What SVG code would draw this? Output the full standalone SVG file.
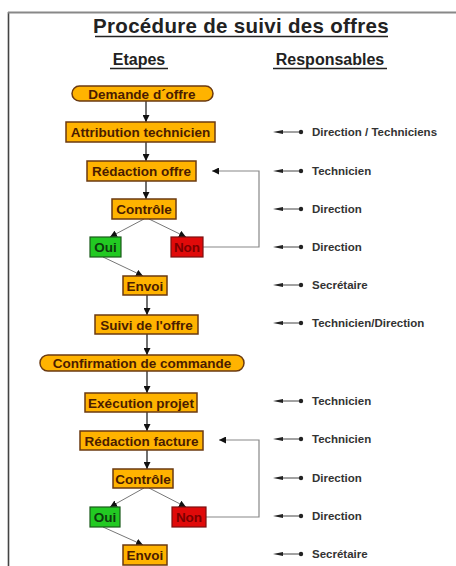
<svg xmlns="http://www.w3.org/2000/svg" width="456" height="566" viewBox="0 0 456 566">
<defs>
<marker id="ah" viewBox="0 0 10 10" refX="10" refY="5" markerWidth="7" markerHeight="7" markerUnits="userSpaceOnUse" orient="auto">
<path d="M0,0 L10,5 L0,10 Z" fill="#111"/>
</marker>
<g id="resp-mark">
<path d="M0,0 L10,-2 L10,2 Z" fill="#222"/>
<line x1="10" y1="0" x2="27" y2="0" stroke="#444" stroke-width="1"/>
<circle cx="28" cy="0" r="2.2" fill="#222"/>
</g>
</defs>
<style>
.box{fill:#ffb300;stroke:#6b3a10;stroke-width:1.5}
.ok{fill:#22c922;stroke:#1a5a1a;stroke-width:1.2}
.no{fill:#e00a0a;stroke:#7a1010;stroke-width:1.2}
.t{font-family:"Liberation Sans",Arial,sans-serif;font-weight:bold;font-size:13.5px;fill:#4a1c00;text-anchor:middle}
.tok{fill:#0d3a0d}
.tno{fill:#7a0000}
.h{font-family:"Liberation Sans",Arial,sans-serif;font-weight:bold;fill:#222;text-anchor:middle}
.r{font-family:"Liberation Sans",Arial,sans-serif;font-weight:bold;font-size:11.5px;fill:#333}
.v{stroke:#111;stroke-width:1.2;fill:none;marker-end:url(#ah)}
.d{stroke:#777;stroke-width:1;fill:none;marker-end:url(#ah)}
.loop{stroke:#888;stroke-width:1.2;fill:none;marker-end:url(#ah)}
</style>
<rect x="0" y="0" width="456" height="566" fill="#fff"/>
<line x1="8.5" y1="12" x2="8.5" y2="566" stroke="#444" stroke-width="1.6"/>
<line x1="8" y1="12.5" x2="456" y2="12.5" stroke="#888" stroke-width="2"/>

<g id="title">
<text class="h" x="241" y="33" font-size="20.5" letter-spacing="0.3">Procédure de suivi des offres</text>
<line x1="95" y1="36.5" x2="388" y2="36.5" stroke="#222" stroke-width="1.5"/>
</g>
<g id="head-etapes">
<text class="h" x="139" y="65" font-size="16">Etapes</text>
<line x1="110" y1="68.5" x2="168" y2="68.5" stroke="#222" stroke-width="1.3"/>
</g>
<g id="head-resp">
<text class="h" x="330" y="65" font-size="16">Responsables</text>
<line x1="273" y1="68.5" x2="387" y2="68.5" stroke="#222" stroke-width="1.3"/>
</g>

<g id="connectors">
<line class="v" x1="146" y1="101" x2="146" y2="122"/>
<line class="v" x1="146" y1="142" x2="146" y2="161"/>
<line class="v" x1="146" y1="181" x2="146" y2="199"/>
<line class="d" x1="144" y1="219" x2="110" y2="237"/>
<line class="d" x1="149" y1="219" x2="186" y2="237"/>
<line class="d" x1="103" y1="257" x2="143" y2="276"/>
<line class="v" x1="147" y1="295" x2="147" y2="315"/>
<line class="v" x1="147" y1="334" x2="147" y2="355"/>
<line class="v" x1="147" y1="371" x2="147" y2="393"/>
<line class="v" x1="147" y1="412" x2="147" y2="431"/>
<line class="v" x1="147" y1="450" x2="147" y2="469"/>
<line class="d" x1="144" y1="488" x2="110" y2="507"/>
<line class="d" x1="149" y1="488" x2="186" y2="507"/>
<line class="d" x1="103" y1="527" x2="143" y2="545"/>
<path class="loop" d="M203,247 H259 V171 H212"/>
<path class="loop" d="M206,517 H259 V440 H219"/>
</g>

<g id="n-demande"><rect class="box" x="72" y="86" width="141" height="15" rx="7.5"/><text class="t" x="142" y="98.5">Demande d´offre</text></g>
<g id="n-attribution"><rect class="box" x="66" y="122" width="149" height="20"/><text class="t" x="140.5" y="137">Attribution technicien</text></g>
<g id="n-redaction-offre"><rect class="box" x="87" y="161" width="109" height="20"/><text class="t" x="141.5" y="176">Rédaction offre</text></g>
<g id="n-controle1"><rect class="box" x="112" y="199" width="64" height="20"/><text class="t" x="144" y="214">Contrôle</text></g>
<g id="n-oui1"><rect class="ok" x="90" y="237" width="31" height="20"/><text class="t tok" x="105.5" y="252">Oui</text></g>
<g id="n-non1"><rect class="no" x="171" y="237" width="32" height="20"/><text class="t tno" x="187" y="252">Non</text></g>
<g id="n-envoi1"><rect class="box" x="123" y="276" width="44" height="19"/><text class="t" x="145" y="290.5">Envoi</text></g>
<g id="n-suivi"><rect class="box" x="95" y="315" width="103" height="19"/><text class="t" x="146.5" y="329.5">Suivi de l'offre</text></g>
<g id="n-confirmation"><rect class="box" x="40" y="355" width="204" height="16" rx="8"/><text class="t" x="142" y="368">Confirmation de commande</text></g>
<g id="n-execution"><rect class="box" x="85" y="393" width="112" height="19"/><text class="t" x="141" y="407.5">Exécution projet</text></g>
<g id="n-redaction-facture"><rect class="box" x="80" y="431" width="123" height="19"/><text class="t" x="141.5" y="445.5">Rédaction facture</text></g>
<g id="n-controle2"><rect class="box" x="113" y="469" width="60" height="19"/><text class="t" x="143" y="483.5">Contrôle</text></g>
<g id="n-oui2"><rect class="ok" x="90" y="507" width="30" height="20"/><text class="t tok" x="105" y="522">Oui</text></g>
<g id="n-non2"><rect class="no" x="172" y="507" width="34" height="20"/><text class="t tno" x="189" y="522">Non</text></g>
<g id="n-envoi2"><rect class="box" x="123" y="545" width="44" height="20"/><text class="t" x="145" y="560">Envoi</text></g>

<g id="responsables">
<use href="#resp-mark" x="273" y="132"/><text class="r" x="312" y="136">Direction / Techniciens</text>
<use href="#resp-mark" x="273" y="171"/><text class="r" x="312" y="175">Technicien</text>
<use href="#resp-mark" x="273" y="209"/><text class="r" x="312" y="213">Direction</text>
<use href="#resp-mark" x="273" y="247"/><text class="r" x="312" y="251">Direction</text>
<use href="#resp-mark" x="273" y="285"/><text class="r" x="312" y="289">Secrétaire</text>
<use href="#resp-mark" x="273" y="323"/><text class="r" x="312" y="327">Technicien/Direction</text>
<use href="#resp-mark" x="273" y="401"/><text class="r" x="312" y="405">Technicien</text>
<use href="#resp-mark" x="273" y="439"/><text class="r" x="312" y="443">Technicien</text>
<use href="#resp-mark" x="273" y="478"/><text class="r" x="312" y="482">Direction</text>
<use href="#resp-mark" x="273" y="516"/><text class="r" x="312" y="520">Direction</text>
<use href="#resp-mark" x="273" y="554"/><text class="r" x="312" y="558">Secrétaire</text>
</g>
</svg>
